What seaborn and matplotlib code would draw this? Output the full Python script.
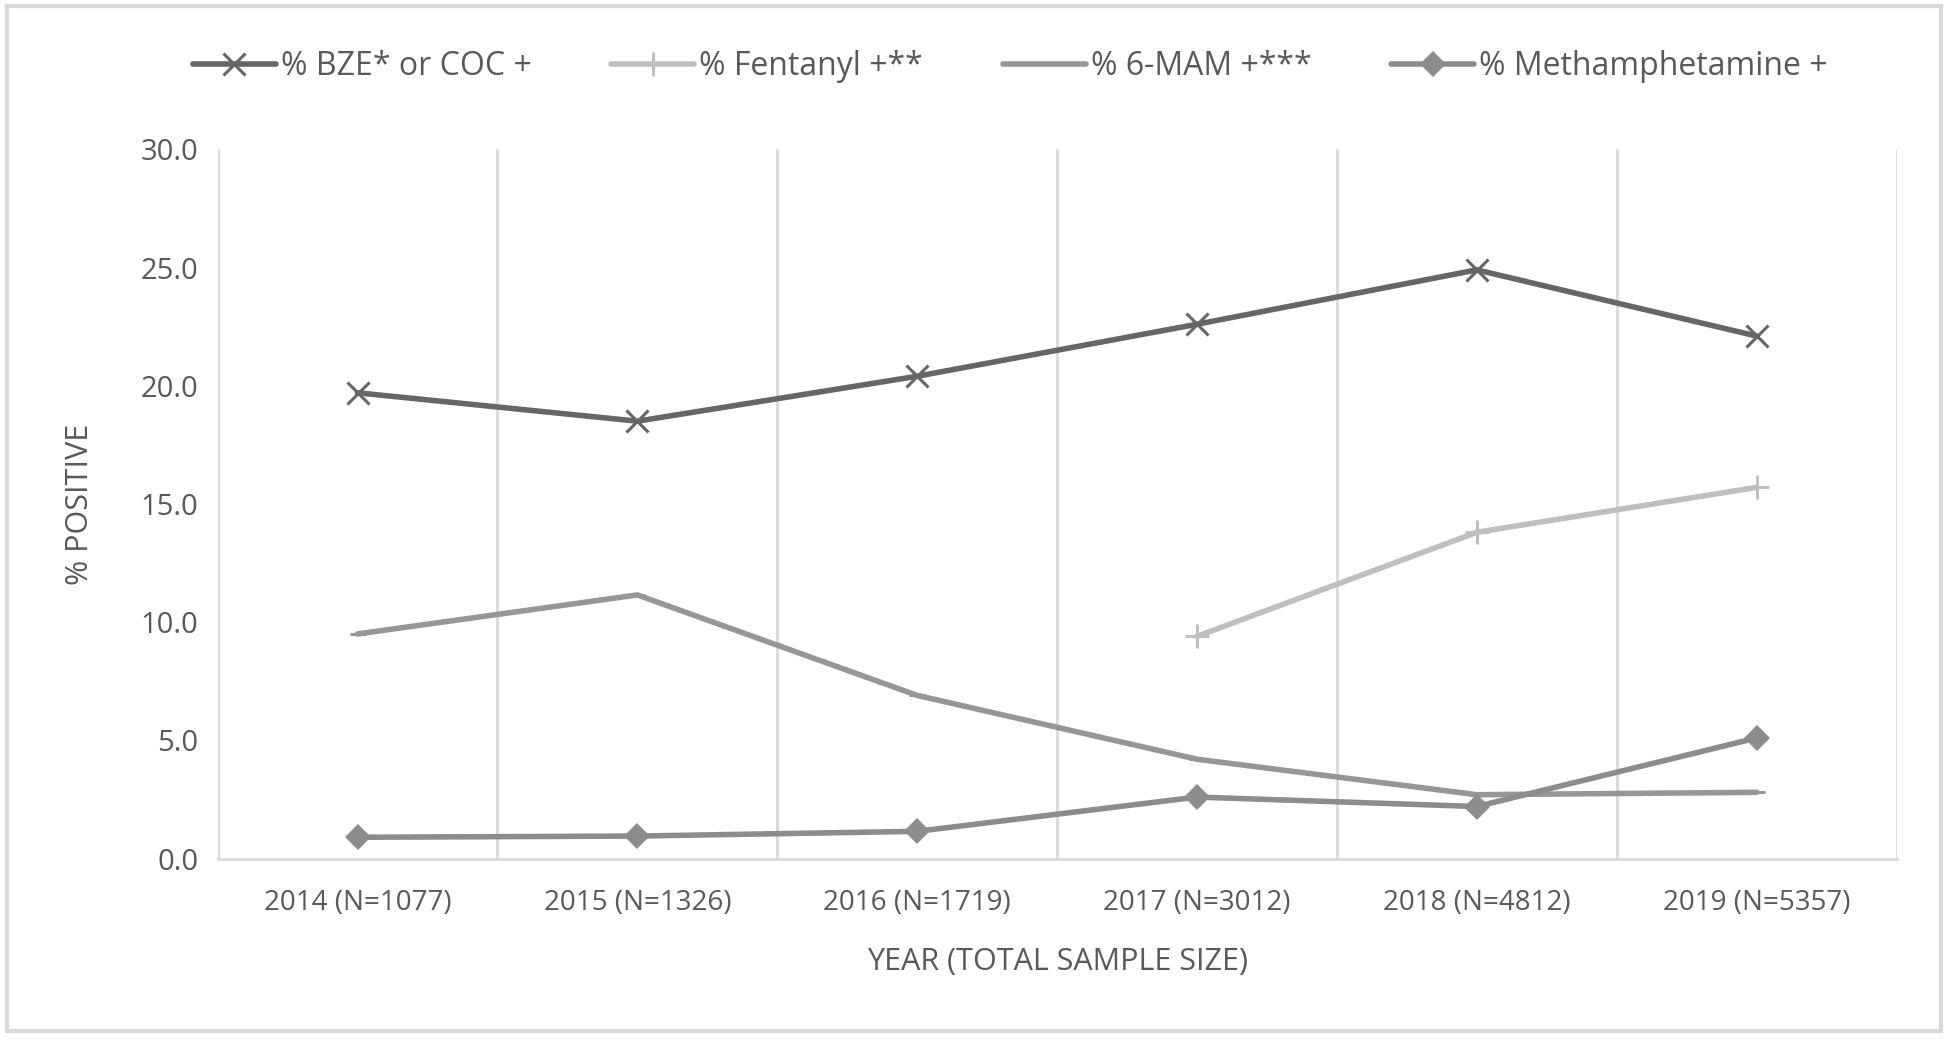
import numpy as np
import pandas as pd
import matplotlib
matplotlib.use("Agg")
import matplotlib.pyplot as plt
import seaborn as sns
from matplotlib.patches import Rectangle

years = ["2014 (N=1077)", "2015 (N=1326)", "2016 (N=1719)",
         "2017 (N=3012)", "2018 (N=4812)", "2019 (N=5357)"]
bze = [19.7, 18.5, 20.4, 22.6, 24.9, 22.1]
fentanyl = [np.nan, np.nan, np.nan, 9.4, 13.8, 15.7]
mam = [9.5, 11.15, 6.9, 4.2, 2.7, 2.8]
meth = [0.9, 0.95, 1.15, 2.6, 2.2, 5.1]

series_names = ["% BZE* or COC +", "% Fentanyl +**", "% 6-MAM +***", "% Methamphetamine +"]
series_values = [bze, fentanyl, mam, meth]
colors = ["#666666", "#bfbfbf", "#969696", "#8c8c8c"]
markers = ["x", "+", "_", "D"]
msizes = [16, 17, 12, 13]

sns.set_theme(style="white")
plt.rcParams["font.family"] = ["Open Sans", "DejaVu Sans"]
txt = "#595959"

fig = plt.figure(figsize=(19.5, 10.39), dpi=100)
ax = fig.add_axes([0.1116, 0.1737, 0.861, 0.6826])

pos = np.arange(len(years))
for name, vals, c, m, ms in zip(series_names, series_values, colors, markers, msizes):
    df = pd.DataFrame({"x": pos, "y": vals}).dropna()
    sns.lineplot(data=df, x="x", y="y", ax=ax, color=c, linewidth=4, marker=m,
                 markersize=ms, markeredgewidth=2.2 if m in "x+_" else 0,
                 markeredgecolor=c, markerfacecolor=c, label=name,
                 solid_capstyle="round")

ax.set_xlim(-0.5, len(years) - 0.5)
ax.set_ylim(0, 30)
ax.set_yticks(np.arange(0, 30.1, 5))
ax.set_yticklabels([f"{v:.1f}" for v in np.arange(0, 30.1, 5)])
ax.set_xticks(pos)
ax.set_xticklabels(years)
for b in np.arange(-0.5, len(years), 1.0):
    ax.axvline(b, color="#d9d9d9", linewidth=2, zorder=0)
for s in ["top", "right", "left"]:
    ax.spines[s].set_visible(False)
ax.spines["bottom"].set_color("#d9d9d9")
ax.spines["bottom"].set_linewidth(2)
ax.tick_params(axis="y", length=0, pad=14, labelsize=21, labelcolor=txt)
ax.tick_params(axis="x", length=0, pad=22, labelsize=20, labelcolor=txt)
ax.set_xlabel("YEAR (TOTAL SAMPLE SIZE)", fontsize=22, color=txt)
ax.set_ylabel("% POSITIVE", fontsize=22, color=txt)
ax.xaxis.set_label_coords(0.5, -0.125)
ax.yaxis.set_label_coords(-0.073, 0.5)

if ax.legend_:
    ax.legend_.remove()
handles, labels = ax.get_legend_handles_labels()
leg = fig.legend(handles, labels, loc="center", bbox_to_anchor=(0.518, 0.936),
                 ncol=4, frameon=False, fontsize=23, handlelength=2.6,
                 columnspacing=2.5, handletextpad=0.15, labelcolor=txt)

fig.patches.append(Rectangle((0.0036, 0.0077), 0.992, 0.9865, transform=fig.transFigure,
                             fill=False, edgecolor="#d9d9d9", linewidth=3))

fig.savefig("out.png", dpi=100)
